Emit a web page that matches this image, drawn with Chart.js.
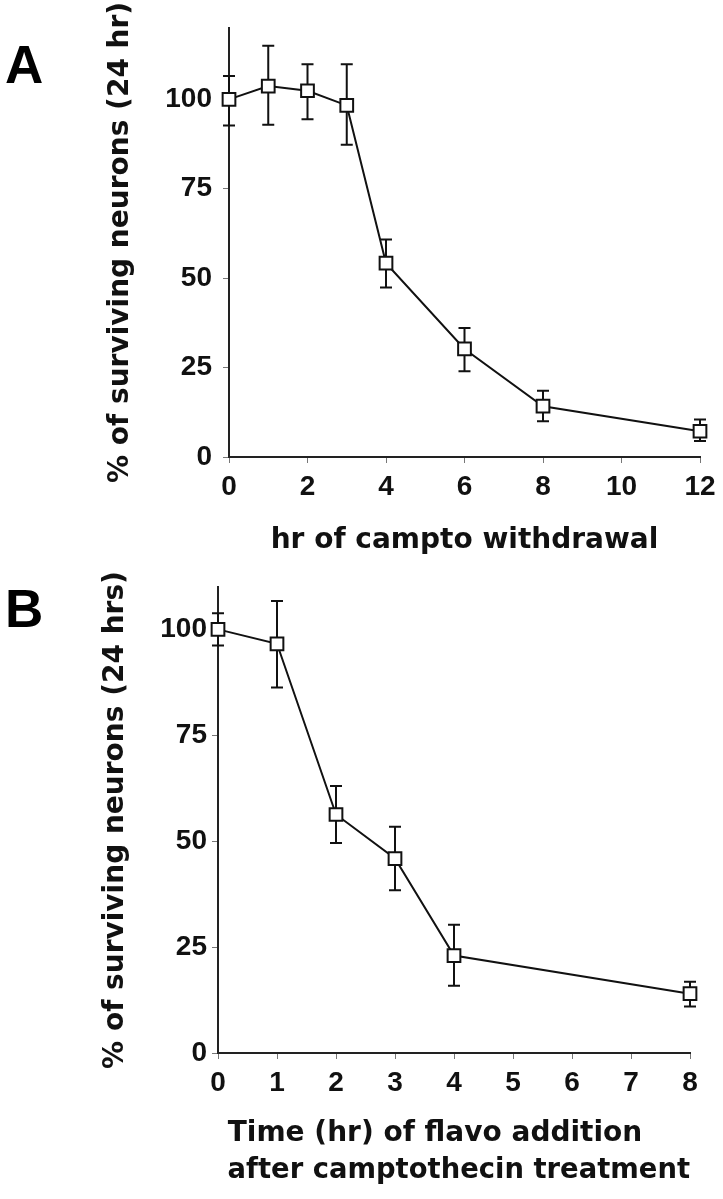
<!DOCTYPE html>
<html>
<head>
<meta charset="utf-8">
<script src="https://cdn.jsdelivr.net/npm/chart.js@4/dist/chart.umd.min.js"></script>
<style>
  html, body { margin: 0; padding: 0; background: #fff; }
  #wrap { position: relative; width: 723px; height: 1199px; overflow: hidden; }
  canvas { position: absolute; left: 0; }
  .lab { position: absolute; font-family: "Liberation Sans", Arial, sans-serif; font-weight: bold; font-size: 53px; line-height: 53px; color: #000; }
</style>
</head>
<body>
<div id="wrap">
  <div class="lab" style="left:5px; top:38px;">A</div>
  <div class="lab" style="left:5px; top:582px;">B</div>
  <canvas id="cA" width="723" height="560" style="top:0"></canvas>
  <canvas id="cB" width="723" height="639" style="top:560px"></canvas>
</div>
<script>
// ---- Panel A data ----
const hoursA = [0, 1, 2, 3, 4, 6, 8, 12];
const survivalA = [100, 103.7, 102.4, 98.3, 54.2, 30.2, 14.2, 7.2];
const errHighA = [106.5, 115, 109.8, 109.8, 60.8, 36.1, 18.5, 10.5];
const errLowA = [92.7, 92.9, 94.4, 87.3, 47.4, 24, 10, 4.5];
const yTicksA = [0, 25, 50, 75, 100];
const xTicksA = [0, 2, 4, 6, 8, 10, 12];
const xTitleA = 'hr of campto withdrawal';
const yTitleA = '% of surviving neurons (24 hr)';

// ---- Panel B data ----
const hoursB = [0, 1, 2, 3, 4, 8];
const survivalB = [100, 96.6, 56.3, 45.9, 23, 14];
const errHighB = [103.8, 106.7, 63, 53.4, 30.3, 16.8];
const errLowB = [96.2, 86.3, 49.6, 38.4, 15.9, 11];
const yTicksB = [0, 25, 50, 75, 100];
const xTicksB = [0, 1, 2, 3, 4, 5, 6, 7, 8];
const xTitleB = [' Time (hr) of flavo addition', ' after camptothecin treatment'];
const yTitleB = '% of surviving neurons (24 hrs)';

const tickFont = { family: '"Liberation Sans", Arial, sans-serif', weight: 'bold', size: 28 };
const titleFont = { family: '"DejaVu Sans", sans-serif', weight: 'bold', size: 28 };
const titleFontB = { family: '"DejaVu Sans", sans-serif', weight: 'bold', size: 28, lineHeight: 1.32 };

const errorBars = {
  id: 'errorBars',
  beforeDatasetsDraw(chart, args, opts) {
    const ctx = chart.ctx;
    const xs = chart.scales.x, ys = chart.scales.y;
    const ds = chart.data.datasets[0];
    ctx.save();
    ctx.strokeStyle = '#111';
    ctx.lineWidth = 2;
    ds.data.forEach((p, i) => {
      const x = xs.getPixelForValue(p.x);
      const yh = ys.getPixelForValue(opts.high[i]);
      const yl = ys.getPixelForValue(opts.low[i]);
      const c = 6;
      ctx.beginPath();
      ctx.moveTo(x, yh); ctx.lineTo(x, yl);
      ctx.moveTo(x - c, yh); ctx.lineTo(x + c, yh);
      ctx.moveTo(x - c, yl); ctx.lineTo(x + c, yl);
      ctx.stroke();
    });
    ctx.restore();
  }
};

function makeChart(id, cfg) {
  const pts = cfg.xs.map((x, i) => ({ x: x, y: cfg.ys[i] }));
  return new Chart(document.getElementById(id), {
    type: 'line',
    data: {
      datasets: [{
        data: pts,
        borderColor: '#111',
        borderWidth: 2,
        pointStyle: 'rect',
        pointRadius: 9,
        pointBorderWidth: 2,
        pointBackgroundColor: '#fff',
        pointBorderColor: '#111',
        tension: 0,
        fill: false,
        clip: false
      }]
    },
    plugins: [errorBars],
    options: {
      responsive: false,
      animation: false,
      events: [],
      layout: { padding: cfg.padding },
      plugins: {
        legend: { display: false },
        tooltip: { enabled: false },
        errorBars: { high: cfg.high, low: cfg.low }
      },
      scales: {
        x: {
          type: 'linear',
          min: cfg.xmin, max: cfg.xmax,
          afterBuildTicks: s => { s.ticks = cfg.xTicks.map(v => ({ value: v })); },
          afterFit: s => { s.height = cfg.xHeight; },
          ticks: { font: tickFont, color: '#111', padding: 7, maxRotation: 0, autoSkip: false },
          grid: { drawOnChartArea: false, tickLength: 6, color: '#777', lineWidth: 1 },
          border: { color: '#222', width: 2 },
          title: { display: true, text: cfg.xTitle, font: cfg.xTitleFont, color: '#111',
                   align: cfg.xAlign, padding: { top: 0, bottom: cfg.xTitlePad } }
        },
        y: {
          type: 'linear',
          min: 0, max: cfg.ymax,
          afterBuildTicks: s => { s.ticks = cfg.yTicks.map(v => ({ value: v })); },
          afterFit: s => { s.width = cfg.yWidth; },
          ticks: { font: tickFont, color: '#111', padding: cfg.yTickPad },
          grid: { drawOnChartArea: false, tickLength: 6, color: '#777', lineWidth: 1 },
          border: { color: '#222', width: 2 },
          title: { display: true, text: cfg.yTitle, font: titleFont, color: '#111',
                   padding: { top: cfg.yTitlePad, bottom: 0 } }
        }
      }
    }
  });
}

makeChart('cA', {
  xs: hoursA, ys: survivalA, high: errHighA, low: errLowA,
  xTicks: xTicksA, yTicks: yTicksA, xmin: 0, xmax: 12, ymax: 120,
  xTitle: xTitleA, yTitle: yTitleA, xAlign: 'center', xTitleFont: titleFont,
  padding: { top: 15, right: 23, bottom: 0, left: 0 },
  xHeight: 103, yWidth: 229, xTitlePad: 2, yTitlePad: 104, yTickPad: 11
});

makeChart('cB', {
  xs: hoursB, ys: survivalB, high: errHighB, low: errLowB,
  xTicks: xTicksB, yTicks: yTicksB, xmin: 0, xmax: 8, ymax: 110,
  xTitle: xTitleB, yTitle: yTitleB, xAlign: 'start', xTitleFont: titleFontB,
  padding: { top: 27, right: 33, bottom: 0, left: 0 },
  xHeight: 146, yWidth: 218, xTitlePad: 10, yTitlePad: 99, yTickPad: 5
});
</script>
</body>
</html>
